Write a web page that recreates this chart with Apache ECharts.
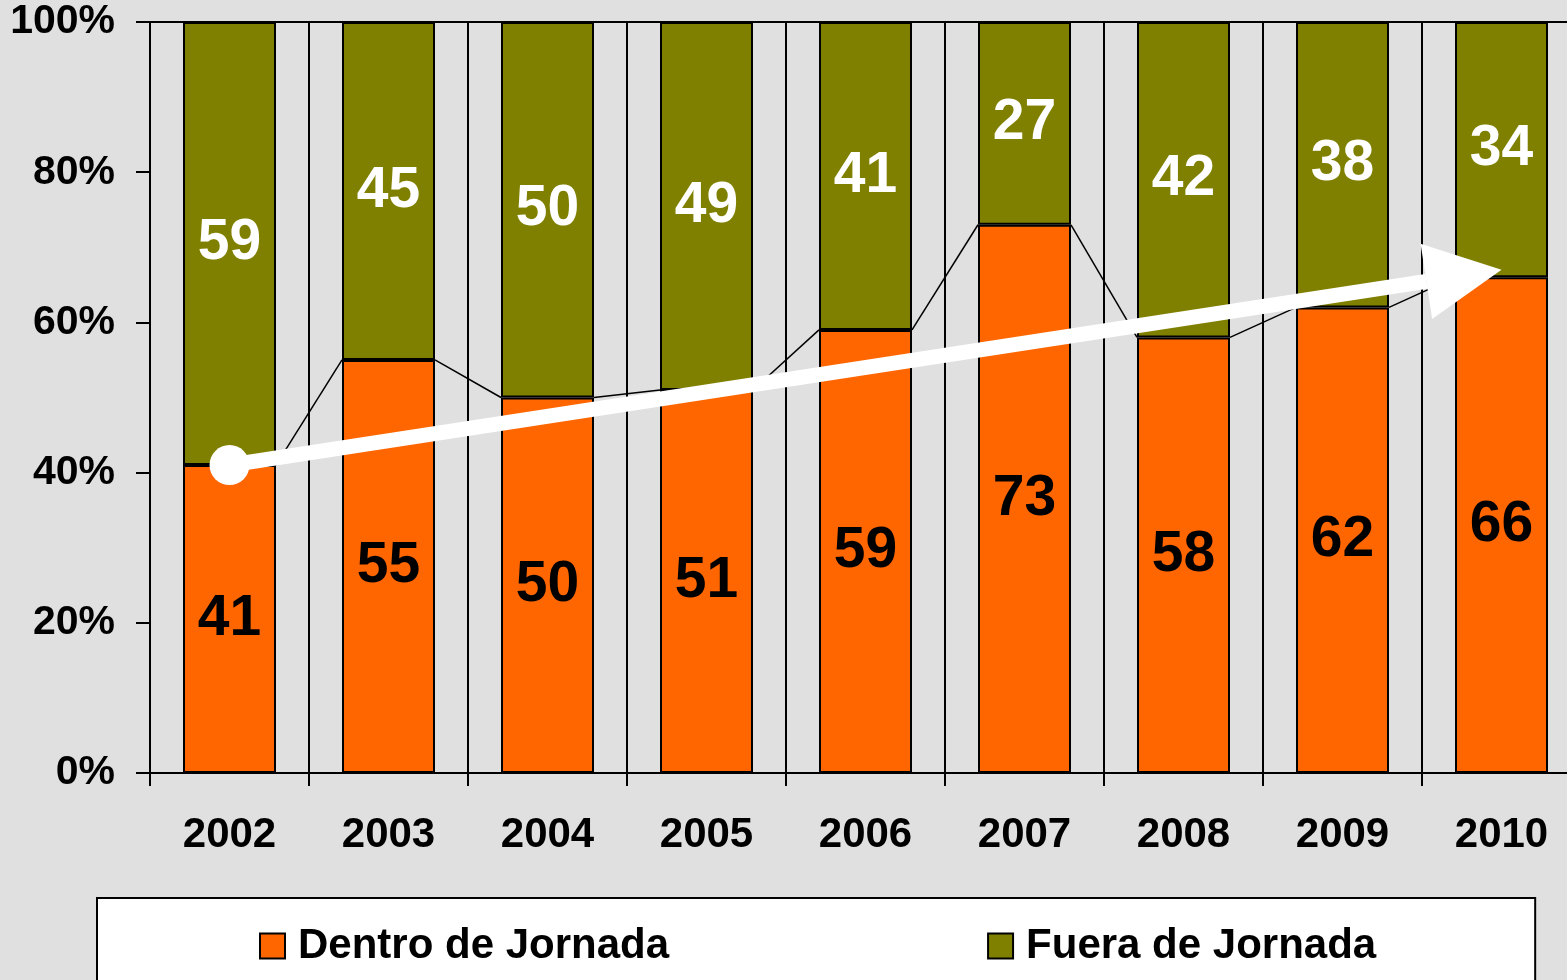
<!DOCTYPE html>
<html>
<head>
	<meta charset="utf-8" />
	<title>Dentro / Fuera de Jornada</title>
	<script type="text/javascript" src="https://cdn.jsdelivr.net/npm/echarts@6/dist/echarts.min.js"></script>
	<style>
		html, body {margin:0;padding:0;height:100%;background:#e0e0e0;}
		#chart {width:1567px;height:980px;}
	</style>
</head>
<body>
	<div id="chart"></div>

	<script>
		var years = ['2002', '2003', '2004', '2005', '2006', '2007', '2008', '2009', '2010'];
		var dentro = [41, 55, 50, 51, 59, 73, 58, 62, 66]; // Dentro de Jornada (%)
		var fuera  = [59, 45, 50, 49, 41, 27, 42, 38, 34]; // Fuera de Jornada (%)
		var yTicks = [0, 20, 40, 60, 80, 100];
		var trend  = [[0, 41, 8, 67]]; // flecha: [x0, y0, x1, y1]

		var BAR_W = 93;
		var font = 'Liberation Sans, Arial, sans-serif';

		// lineas de serie entre barras (de borde a borde)
		var serieLines = [];
		for (var i = 0; i < dentro.length - 1; i++) {
			serieLines.push([i, dentro[i], i + 1, dentro[i + 1]]);
		}

		var chart = echarts.init(document.getElementById('chart'));

		var option = {
			backgroundColor: '#e0e0e0',
			animation: false,
			textStyle: {fontFamily: font},
			grid: {
				left: 150,
				top: 22,
				width: 1431,
				height: 751,
				outerBoundsMode: 'none',
				containLabel: false,
				show: true,
				borderColor: '#000',
				borderWidth: 2,
				backgroundColor: 'transparent'
			},
			legend: {
				data: ['Dentro de Jornada', 'Fuera de Jornada'],
				left: 97,
				top: 898,
				orient: 'horizontal',
				icon: 'rect',
				itemWidth: 25,
				itemHeight: 25,
				itemGap: 318,
				backgroundColor: '#fff',
				borderColor: '#000',
				borderWidth: 2,
				borderRadius: 0,
				padding: [27, 159, 60, 162],
				textStyle: {fontSize: 42, fontWeight: 'bold', color: '#000', fontFamily: font, padding: [0, 0, 0, 8]}
			},
			xAxis: {
				type: 'category',
				data: years,
				boundaryGap: true,
				axisLine: {show: true, lineStyle: {color: '#000', width: 2}},
				axisTick: {show: true, length: 13, lineStyle: {color: '#000', width: 2}},
				splitLine: {show: true, lineStyle: {color: '#000', width: 2}},
				axisLabel: {fontSize: 42, fontWeight: 'bold', color: '#000', margin: 41, fontFamily: font}
			},
			yAxis: {
				type: 'value',
				min: yTicks[0],
				max: yTicks[yTicks.length - 1],
				interval: 20,
				axisLine: {show: true, lineStyle: {color: '#000', width: 2}},
				axisTick: {show: true, length: 14, lineStyle: {color: '#000', width: 2}},
				splitLine: {show: false},
				axisLabel: {formatter: '{value}%', fontSize: 41, fontWeight: 'bold', color: '#000', margin: 35, fontFamily: font}
			},
			series: [
				{
					name: 'Dentro de Jornada',
					type: 'bar',
					stack: 'total',
					barWidth: BAR_W,
					data: dentro,
					itemStyle: {color: '#ff6600', borderColor: '#000', borderWidth: 2},
					label: {show: true, position: 'inside', fontSize: 57, fontWeight: 'bold', color: '#000', fontFamily: font}
				},
				{
					name: 'Fuera de Jornada',
					type: 'bar',
					stack: 'total',
					barWidth: BAR_W,
					data: fuera,
					itemStyle: {color: '#808000', borderColor: '#000', borderWidth: 2},
					label: {show: true, position: 'inside', fontSize: 57, fontWeight: 'bold', color: '#fff', fontFamily: font}
				},
				{
					type: 'custom',
					name: 'lineas',
					data: serieLines,
					encode: {x: [0, 2], y: [1, 3]},
					z: 3,
					silent: true,
					renderItem: function(params, api) {
						var p0 = api.coord([api.value(0), api.value(1)]);
						var p1 = api.coord([api.value(2), api.value(3)]);
						return {
							type: 'line',
							shape: {x1: p0[0] + BAR_W / 2, y1: p0[1], x2: p1[0] - BAR_W / 2, y2: p1[1]},
							style: {stroke: '#000', lineWidth: 1.5}
						};
					}
				},
				{
					type: 'custom',
					name: 'tendencia',
					data: trend,
					encode: {x: [0, 2], y: [1, 3]},
					z: 10,
					silent: true,
					renderItem: function(params, api) {
						var p0 = api.coord([api.value(0), api.value(1)]);
						var p1 = api.coord([api.value(2), api.value(3)]);
						var dx = p1[0] - p0[0], dy = p1[1] - p0[1];
						var len = Math.sqrt(dx * dx + dy * dy);
						var ux = dx / len, uy = dy / len;
						var nx = -uy, ny = ux;
						var headL = 76, headW = 38, shaftW = 7.5;
						var bx = p1[0] - ux * headL, by = p1[1] - uy * headL;
						return {
							type: 'group',
							children: [
								{
									type: 'polygon',
									shape: {points: [
										[p0[0] + nx * shaftW, p0[1] + ny * shaftW],
										[bx + nx * shaftW, by + ny * shaftW],
										[bx - nx * shaftW, by - ny * shaftW],
										[p0[0] - nx * shaftW, p0[1] - ny * shaftW]
									]},
									style: {fill: '#fff'}
								},
								{
									type: 'polygon',
									shape: {points: [
										[bx + nx * headW, by + ny * headW],
										[p1[0], p1[1]],
										[bx - nx * headW, by - ny * headW]
									]},
									style: {fill: '#fff'}
								},
								{
									type: 'circle',
									shape: {cx: p0[0], cy: p0[1], r: 20},
									style: {fill: '#fff'}
								}
							]
						};
					}
				}
			]
		};

		chart.setOption(option);
		window.addEventListener('resize', chart.resize);
	</script>
</body>
</html>
